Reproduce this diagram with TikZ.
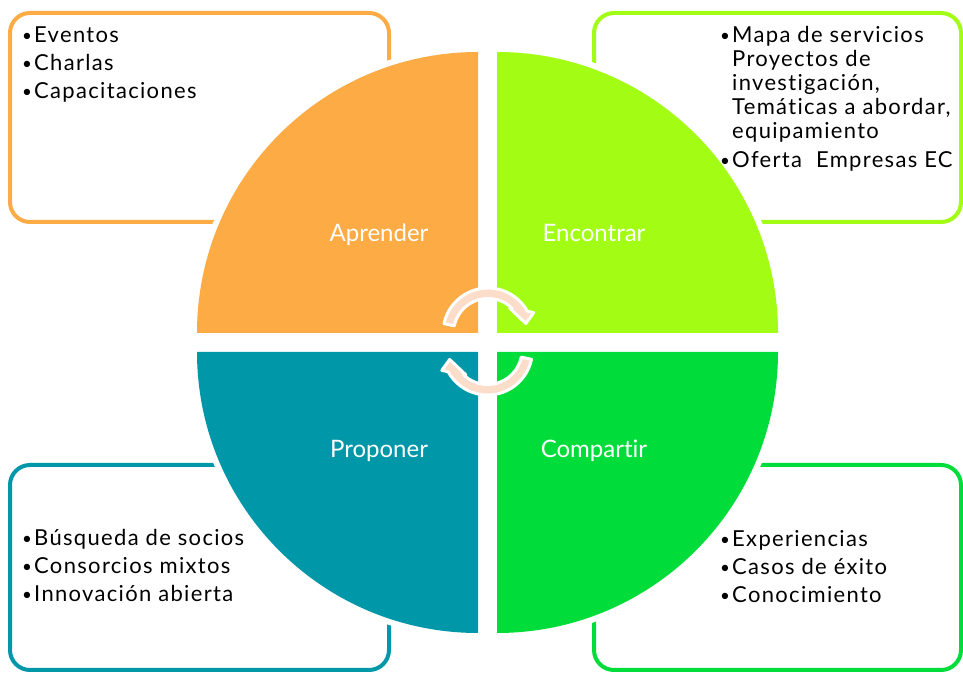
\documentclass[tikz,border=0pt]{standalone}
\usepackage{fontspec}
\setmainfont{Lato}[Ligatures=NoCommon]
\newfontfamily\fuentelista{Lato}[LetterSpace=6,Ligatures=NoCommon]
\usetikzlibrary{calc}
\definecolor{naranja}{HTML}{FCAB45}
\definecolor{lima}{HTML}{A2FC14}
\definecolor{petroleo}{HTML}{0097A8}
\definecolor{verde}{HTML}{00DC3A}
\definecolor{durazno}{HTML}{FBDDC9}
\newcommand{\vineta}{\makebox[12pt][l]{\raisebox{1pt}{\fontsize{17}{17}\selectfont\textbullet}}}

\begin{document}
\begin{tikzpicture}[x=1pt,y=1pt,
  caja/.style={line width=4pt,rounded corners=20pt},
  lista/.style={anchor=base west,inner sep=0pt,font=\fuentelista\fontsize{22}{24}\selectfont},
  etiqueta/.style={anchor=base,text=white,font=\fontsize{24}{28}\selectfont},
  flecha/.style={fill=durazno,draw=white,line width=3pt,line join=round}]
\useasboundingbox (0,0) rectangle (963,674);
\draw[caja,naranja] (10,452) rectangle (389,661);
\draw[caja,lima] (594,452) rectangle (961,661);
\draw[caja,petroleo] (10,4) rectangle (389,209);
\draw[caja,verde] (594,4) rectangle (961,209);
\foreach \c/\x/\y/\a in {naranja/478/341/90,lima/497/341/0,petroleo/478/322/180,verde/497/322/270}{
	\draw[white,line width=12pt] (\x,\y) ++(\a:281) arc (\a:\a+90:281);
	\fill[\c] (\x,\y) -- ++(\a:281) arc (\a:\a+90:281) -- cycle;
}
\node[etiqueta] (aprender) at (379,432) {Aprender};
\node[etiqueta] (encontrar) at (594,432) {Encontrar};
\node[etiqueta] (proponer) at (379,216) {Proponer};
\node[etiqueta] (compartir) at (594,216) {Compartir};
\path[flecha,shift={(488,341)}] (168:45) arc (168:29:45) -- (24:50) -- (14:39)
	-- (49:33) -- (46:34.5) arc (46:168:34.5) -- cycle;
\path[flecha,shift={(487.5,324)}] (348:45) arc (348:209:45) -- (204:50) -- (194:39)
	-- (229:33) -- (226:34.5) arc (226:348:34.5) -- cycle;
\node[lista] (aprenderlista) at (22,631) {\begin{tabular}[t]{@{}l@{}l@{}}
	\vineta & Eventos\\[4pt]
	\vineta & Charlas\\[4pt]
	\vineta & Capacitaciones
\end{tabular}};
\node[lista] (encontrarlista) at (720,631) {\begin{tabular}[t]{@{}l@{}l@{}}
	\vineta & Mapa de servicios\\
	& Proyectos de\\
	& investigación,\\
	& Temáticas a abordar,\\
	& equipamiento\\[5pt]
	\vineta & Oferta\ \ Empresas EC
\end{tabular}};
\node[lista] (proponerlista) at (22,128) {\begin{tabular}[t]{@{}l@{}l@{}}
	\vineta & Búsqueda de socios\\[4pt]
	\vineta & Consorcios mixtos\\[4pt]
	\vineta & Innovación abierta
\end{tabular}};
\node[lista] (compartirlista) at (720,127) {\begin{tabular}[t]{@{}l@{}l@{}}
	\vineta & Experiencias\\[4pt]
	\vineta & Casos de éxito\\[4pt]
	\vineta & Conocimiento
\end{tabular}};
\end{tikzpicture}
\end{document}
